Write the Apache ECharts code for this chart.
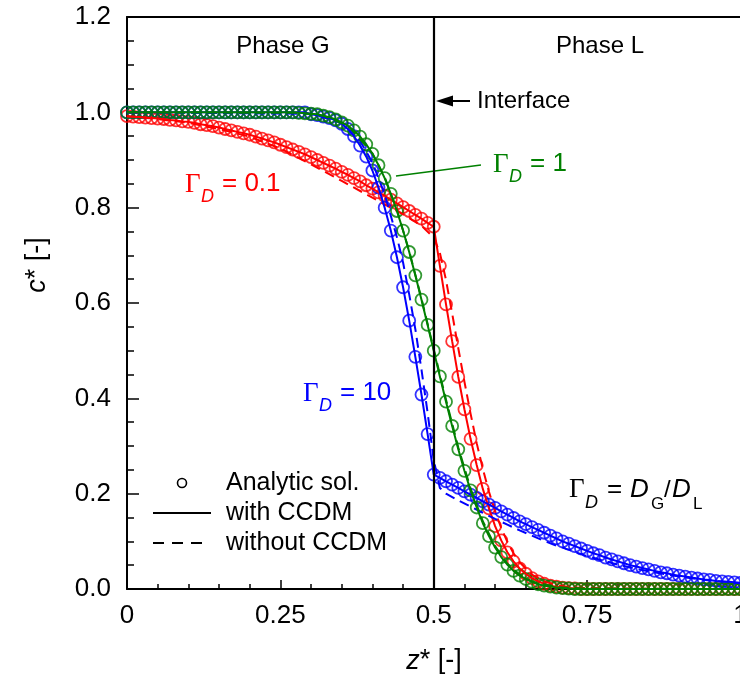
<!DOCTYPE html>
<html><head><meta charset="utf-8">
<script src="https://cdn.jsdelivr.net/npm/echarts@6/dist/echarts.min.js"></script>
<style>html,body{margin:0;padding:0;background:#fff}#c{width:740px;height:679px}</style>
</head><body><div id="c"></div>
<script>
// ---------- DATA ----------
const zAnalytic = [0,0.01,0.02,0.03,0.04,0.05,0.06,0.07,0.08,0.09,
0.10,0.11,0.12,0.13,0.14,0.15,0.16,0.17,0.18,0.19,
0.20,0.21,0.22,0.23,0.24,0.25,0.26,0.27,0.28,0.29,
0.30,0.31,0.32,0.33,0.34,0.35,0.36,0.37,0.38,0.39,
0.40,0.41,0.42,0.43,0.44,0.45,0.46,0.47,0.48,0.49,
0.50,0.51,0.52,0.53,0.54,0.55,0.56,0.57,0.58,0.59,
0.60,0.61,0.62,0.63,0.64,0.65,0.66,0.67,0.68,0.69,
0.70,0.71,0.72,0.73,0.74,0.75,0.76,0.77,0.78,0.79,
0.80,0.81,0.82,0.83,0.84,0.85,0.86,0.87,0.88,0.89,
0.90,0.91,0.92,0.93,0.94,0.95,0.96,0.97,0.98,0.99,1.00];

// Gamma_D = 0.1 (red), analytic solution
const cRed = [0.992,0.991,0.990,0.989,0.988,0.987,0.986,0.984,0.983,0.981,
0.980,0.978,0.975,0.973,0.971,0.968,0.965,0.962,0.959,0.956,
0.953,0.949,0.945,0.941,0.937,0.932,0.927,0.922,0.917,0.912,
0.906,0.900,0.894,0.888,0.882,0.875,0.869,0.862,0.855,0.847,
0.840,0.832,0.825,0.817,0.809,0.801,0.793,0.785,0.777,0.768,
0.760,0.678,0.597,0.520,0.445,0.377,0.315,0.260,0.210,0.169,
0.132,0.102,0.077,0.058,0.043,0.032,0.023,0.016,0.011,0.007,
0.005,0.003,0.002,0.001,0,0,0,0,0,0,
0,0,0,0,0,0,0,0,0,0,
0,0,0,0,0,0,0,0,0,0,0];

// Gamma_D = 1 (green), analytic solution
const cGreen = [1,1,1,1,1,1,1,1,1,1,
1,1,1,1,1,1,1,1,1,1,
1,1,1,1,1,1,1,1,0.999,0.998,
0.997,0.996,0.993,0.990,0.985,0.979,0.972,0.962,0.949,0.933,
0.913,0.889,0.862,0.829,0.793,0.752,0.707,0.658,0.607,0.554,
0.500,0.446,0.393,0.342,0.293,0.248,0.207,0.171,0.138,0.111,
0.087,0.067,0.051,0.038,0.028,0.021,0.015,0.010,0.007,0.005,
0.003,0.002,0.001,0,0,0,0,0,0,0,
0,0,0,0,0,0,0,0,0,0,
0,0,0,0,0,0,0,0,0,0,0];

// Gamma_D = 10 (blue), analytic solution
const cBlue = [1,1,1,1,1,1,1,1,1,1,
1,1,1,1,1,1,1,1,1,1,
1,1,1,1,1,1,1,1,1,1,
0.996,0.994,0.991,0.988,0.983,0.976,0.965,0.950,0.930,0.907,
0.878,0.842,0.800,0.752,0.696,0.633,0.563,0.487,0.408,0.325,
0.240,0.233,0.226,0.219,0.212,0.205,0.198,0.191,0.184,0.177,
0.170,0.163,0.156,0.149,0.142,0.136,0.130,0.124,0.118,0.112,
0.106,0.100,0.095,0.090,0.085,0.080,0.075,0.071,0.066,0.062,
0.058,0.054,0.050,0.047,0.044,0.041,0.038,0.035,0.033,0.030,
0.028,0.026,0.024,0.022,0.020,0.019,0.017,0.016,0.015,0.014,0.013];

// without CCDM (dashed)
const zDashRed = [0,0.05,0.10,0.15,0.20,0.25,0.30,0.35,0.40,0.45,0.48,0.50,0.51,0.52,0.53,0.54,0.55,0.56,0.57,0.58,0.59,0.60,0.61,0.62,0.63,0.64,0.66,0.68,0.70,0.72,0.75,0.80,0.90,1.00];
const cDashRed = [0.992,0.986,0.978,0.965,0.949,0.924,0.891,0.856,0.821,0.786,0.762,0.737,0.705,0.648,0.578,0.505,0.435,0.368,0.306,0.252,0.204,0.163,0.128,0.099,0.075,0.056,0.030,0.016,0.008,0.004,0.002,0.001,0,0];

const zDashBlue = [0,0.30,0.35,0.38,0.40,0.42,0.44,0.45,0.46,0.47,0.48,0.49,0.50,0.51,0.52,0.54,0.56,0.58,0.60,0.62,0.64,0.66,0.68,0.70,0.75,0.80,0.85,0.90,0.95,1.00];
const cDashBlue = [1.000,0.997,0.978,0.940,0.895,0.828,0.738,0.685,0.618,0.545,0.460,0.370,0.270,0.212,0.200,0.186,0.173,0.160,0.147,0.135,0.123,0.112,0.101,0.091,0.069,0.051,0.037,0.026,0.018,0.012];

const zDashGreen = [0,0.28,0.32,0.36,0.40,0.42,0.44,0.46,0.48,0.50,0.52,0.54,0.56,0.58,0.60,0.62,0.64,0.66,0.70,0.75,1.00];
const cDashGreen = [1.000,0.999,0.993,0.972,0.914,0.864,0.795,0.709,0.609,0.503,0.397,0.297,0.211,0.142,0.090,0.053,0.030,0.016,0.004,0.001,0];

const interfaceZ = 0.5;
const xTickValues = [0, 0.25, 0.5, 0.75, 1];
const xTickLabels = ['0', '0.25', '0.5', '0.75', '1'];
const yTickValues = [0, 0.2, 0.4, 0.6, 0.8, 1.0, 1.2];
const yTickLabels = ['0.0', '0.2', '0.4', '0.6', '0.8', '1.0', '1.2'];

// ---------- CHART ----------
const FONT = 'Arial, "Liberation Sans", Helvetica, sans-serif';
const SERIF = '"Liberation Serif", "Times New Roman", serif';
const RED = '#ff0000', GREEN = '#008000', BLUE = '#0000ff';

function pairs(zs, cs) { return zs.map((z, i) => [z, cs[i]]); }
function markers(name, cs, color) {
  return { name, type: 'scatter', data: pairs(zAnalytic, cs), symbol: 'circle', symbolSize: 12,
    itemStyle: { color: 'rgba(0,0,0,0)', borderColor: color, borderWidth: 1.8 }, silent: true };
}
function solid(name, cs, color) {
  return { name, type: 'line', data: pairs(zAnalytic, cs), showSymbol: false, symbol: 'none',
    lineStyle: { color, width: 2 }, silent: true };
}
function dashed(name, zs, cs, color) {
  return { name, type: 'line', data: pairs(zs, cs), showSymbol: false, symbol: 'none',
    lineStyle: { color, width: 2, type: [10, 6] }, silent: true };
}
function txt(x, y, text, o) {
  return { type: 'text', x, y, silent: true,
    style: Object.assign({ text, fill: '#000', fontSize: 24, fontFamily: FONT, align: 'left', verticalAlign: 'middle' }, o || {}) };
}
function gammaLabel(x, y, rest, color) {
  return [
    txt(x, y, 'Γ', { fill: color, fontFamily: SERIF, fontSize: 27 }),
    txt(x + 16, y + 12, 'D', { fill: color, fontStyle: 'italic', fontSize: 18 }),
    txt(x + 37, y - 1, rest, { fill: color, fontSize: 26 })
  ];
}

const chart = echarts.init(document.getElementById('c'), null, { renderer: 'canvas' });
const axisLabelStyle = { color: '#000', fontSize: 26, fontFamily: FONT };

const option = {
  animation: false,
  backgroundColor: '#fff',
  grid: { left: 127, top: 17, width: 613.5, height: 572, containLabel: false, outerBoundsMode: 'none' },
  xAxis: [{
    type: 'value', min: 0, max: 1, interval: 0.25, position: 'bottom',
    axisLine: { lineStyle: { color: '#000', width: 2 } },
    axisTick: { inside: true, length: 9, lineStyle: { color: '#000', width: 1.5 } },
    minorTick: { show: true, splitNumber: 5, length: 5, lineStyle: { color: '#000', width: 1.5 } },
    axisLabel: Object.assign({ margin: 14, formatter: v => { const i = xTickValues.findIndex(t => Math.abs(t - v) < 1e-6); return i >= 0 ? xTickLabels[i] : ''; } }, axisLabelStyle),
    splitLine: { show: false }
  }, {
    type: 'value', min: 0, max: 1, position: 'top',
    axisLine: { show: true, onZero: false, lineStyle: { color: '#000', width: 2 } },
    axisTick: { show: false }, axisLabel: { show: false }, splitLine: { show: false }
  }],
  yAxis: [{
    type: 'value', min: 0, max: 1.2, interval: 0.2,
    axisLine: { show: true, lineStyle: { color: '#000', width: 2 } },
    axisTick: { inside: true, length: 12, lineStyle: { color: '#000', width: 1.5 } },
    minorTick: { show: true, splitNumber: 4, length: 7, lineStyle: { color: '#000', width: 1.5 } },
    axisLabel: Object.assign({ margin: 16, formatter: v => { const i = yTickValues.findIndex(t => Math.abs(t - v) < 1e-6); return i >= 0 ? yTickLabels[i] : ''; } }, axisLabelStyle),
    splitLine: { show: false }
  }],
  series: [
    markers('red analytic', cRed, RED),
    solid('red CCDM', cRed, RED),
    dashed('red no CCDM', zDashRed, cDashRed, RED),
    markers('blue analytic', cBlue, BLUE),
    solid('blue CCDM', cBlue, BLUE),
    dashed('blue no CCDM', zDashBlue, cDashBlue, BLUE),
    markers('green analytic', cGreen, GREEN),
    solid('green CCDM', cGreen, GREEN),
    dashed('green no CCDM', zDashGreen, cDashGreen, GREEN),
    { name: 'interface', type: 'line', data: [], silent: true,
      markLine: { silent: true, symbol: 'none', label: { show: false },
        lineStyle: { color: '#000', width: 2.2, type: 'solid' }, data: [{ xAxis: interfaceZ }] } }
  ],
  graphic: { elements: [].concat(
    [
      txt(283, 46, 'Phase G', { align: 'center' }),
      txt(600, 46, 'Phase L', { align: 'center' }),
      txt(477, 101, 'Interface'),
      { type: 'line', silent: true, shape: { x1: 470, y1: 101, x2: 448, y2: 101 }, style: { stroke: '#000', lineWidth: 2 } },
      { type: 'polygon', silent: true, shape: { points: [[436, 101], [453, 95.5], [453, 106.5]] }, style: { fill: '#000' } },
      { type: 'line', silent: true, shape: { x1: 396, y1: 176, x2: 481, y2: 165 }, style: { stroke: GREEN, lineWidth: 1.5 } }
    ],
    gammaLabel(185, 185, '= 0.1', RED),
    gammaLabel(493, 165, '= 1', GREEN),
    gammaLabel(303, 394, '= 10', BLUE),
    [
      // Gamma_D = D_G / D_L
      txt(569, 490, 'Γ', { fontFamily: SERIF, fontSize: 27 }),
      txt(585, 503, 'D', { fontStyle: 'italic', fontSize: 18 }),
      txt(607, 490, '=', { fontSize: 26 }),
      txt(630, 490, 'D', { fontStyle: 'italic', fontSize: 26 }),
      txt(651, 504, 'G', { fontSize: 17 }),
      txt(664, 490, '/', { fontSize: 24 }),
      txt(672, 490, 'D', { fontStyle: 'italic', fontSize: 26 }),
      txt(693, 504, 'L', { fontSize: 17 }),
      // legend
      { type: 'circle', silent: true, shape: { cx: 182, cy: 483, r: 4.5 }, style: { fill: 'none', stroke: '#000', lineWidth: 1.6 } },
      { type: 'line', silent: true, shape: { x1: 153, y1: 513, x2: 211, y2: 513 }, style: { stroke: '#000', lineWidth: 2 } },
      { type: 'line', silent: true, shape: { x1: 153, y1: 543, x2: 206, y2: 543 }, style: { stroke: '#000', lineWidth: 2, lineDash: [11, 8] } },
      txt(226, 483, 'Analytic sol.', { fontSize: 25 }),
      txt(226, 513, 'with CCDM', { fontSize: 25 }),
      txt(226, 543, 'without CCDM', { fontSize: 25 }),
      // axis titles
      { type: 'text', silent: true, x: 37, y: 265, rotation: Math.PI / 2,
        style: { text: '{i|c}* [-]', fill: '#000', fontSize: 27, fontFamily: FONT, align: 'center', verticalAlign: 'middle',
          rich: { i: { fontStyle: 'italic', fontSize: 27, fontFamily: FONT, fill: '#000' } } } },
      { type: 'text', silent: true, x: 434, y: 661,
        style: { text: '{i|z}* [-]', fill: '#000', fontSize: 27, fontFamily: FONT, align: 'center', verticalAlign: 'middle',
          rich: { i: { fontStyle: 'italic', fontSize: 27, fontFamily: FONT, fill: '#000' } } } }
    ]
  ) }
};
chart.setOption(option);
</script>
</body></html>
